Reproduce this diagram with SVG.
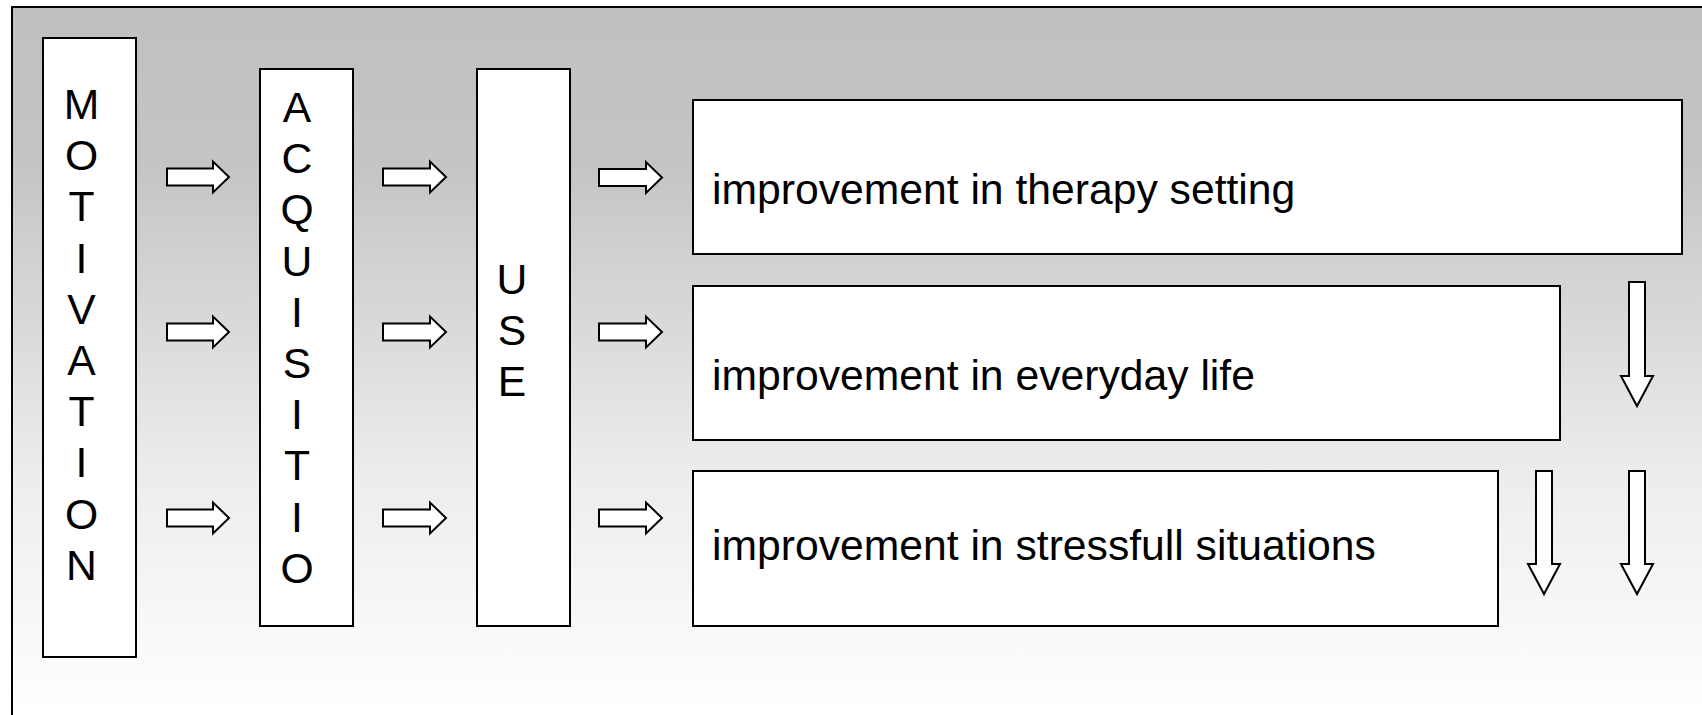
<svg xmlns="http://www.w3.org/2000/svg" width="1702" height="715" viewBox="0 0 1702 715">
<defs>
<linearGradient id="bg" x1="0" y1="7" x2="0" y2="715" gradientUnits="userSpaceOnUse">
<stop offset="0" stop-color="#c0c0c0"/>
<stop offset="0.22" stop-color="#c4c4c4"/>
<stop offset="0.65" stop-color="#ececec"/>
<stop offset="1" stop-color="#ffffff"/>
</linearGradient>
</defs>
<style>
.box{fill:#ffffff;stroke:#000000;stroke-width:2}
.arr{fill:#ffffff;stroke:#000000;stroke-width:2;stroke-linejoin:miter}
.t{font-family:"Liberation Sans",Arial,sans-serif;font-size:42.67px;fill:#000000}
.v{text-anchor:middle}
</style>
<rect x="12" y="7" width="1700" height="720" fill="url(#bg)" stroke="#000000" stroke-width="2"/>
<g id="motivation">
<rect class="box" x="43" y="38" width="93" height="619"/>
<text class="t v"><tspan x="81.5" y="119">M</tspan><tspan x="81.5" y="170.2">O</tspan><tspan x="81.5" y="221.4">T</tspan><tspan x="81.5" y="272.6">I</tspan><tspan x="81.5" y="323.8">V</tspan><tspan x="81.5" y="375">A</tspan><tspan x="81.5" y="426.2">T</tspan><tspan x="81.5" y="477.4">I</tspan><tspan x="81.5" y="528.6">O</tspan><tspan x="81.5" y="579.8">N</tspan></text>
</g>
<g id="acquisitio">
<rect class="box" x="260" y="69" width="93" height="557"/>
<text class="t v"><tspan x="297" y="122">A</tspan><tspan x="297" y="173.2">C</tspan><tspan x="297" y="224.4">Q</tspan><tspan x="297" y="275.6">U</tspan><tspan x="297" y="326.8">I</tspan><tspan x="297" y="378">S</tspan><tspan x="297" y="429.2">I</tspan><tspan x="297" y="480.4">T</tspan><tspan x="297" y="531.6">I</tspan><tspan x="297" y="582.8">O</tspan></text>
</g>
<g id="use">
<rect class="box" x="477" y="69" width="93" height="557"/>
<text class="t v"><tspan x="512" y="294">U</tspan><tspan x="512" y="345.2">S</tspan><tspan x="512" y="396.4">E</tspan></text>
</g>
<g id="therapy">
<rect class="box" x="693" y="100" width="989" height="154"/>
<text class="t" x="712" y="204">improvement in therapy setting</text>
</g>
<g id="everyday">
<rect class="box" x="693" y="286" width="867" height="154"/>
<text class="t" x="712" y="390">improvement in everyday life</text>
</g>
<g id="stressful">
<rect class="box" x="693" y="471" width="805" height="155"/>
<text class="t" x="712" y="560">improvement in stressfull situations</text>
</g>
<g id="connectors">
<path class="arr" d="M167,168.5 H213 V161.5 L229,177 L213,192.5 V185.5 H167 Z"/>
<path class="arr" d="M167,323.5 H213 V316.5 L229,332 L213,347.5 V340.5 H167 Z"/>
<path class="arr" d="M167,509.5 H213 V502.5 L229,518 L213,533.5 V526.5 H167 Z"/>
<path class="arr" d="M383,168.5 H430 V161.5 L446,177 L430,192.5 V185.5 H383 Z"/>
<path class="arr" d="M383,323.5 H430 V316.5 L446,332 L430,347.5 V340.5 H383 Z"/>
<path class="arr" d="M383,509.5 H430 V502.5 L446,518 L430,533.5 V526.5 H383 Z"/>
<path class="arr" d="M599,169 H646 V162 L662,177.5 L646,193 V186 H599 Z"/>
<path class="arr" d="M599,323.5 H646 V316.5 L662,332 L646,347.5 V340.5 H599 Z"/>
<path class="arr" d="M599,509.5 H646 V502.5 L662,518 L646,533.5 V526.5 H599 Z"/>
<path class="arr" d="M1629,282 H1645 V376 H1653 L1637,406 L1621,376 H1629 Z"/>
<path class="arr" d="M1629,471 H1645 V564 H1653 L1637,594 L1621,564 H1629 Z"/>
<path class="arr" d="M1536,471 H1552 V564 H1560 L1544,594 L1528,564 H1536 Z"/>
</g>
</svg>
